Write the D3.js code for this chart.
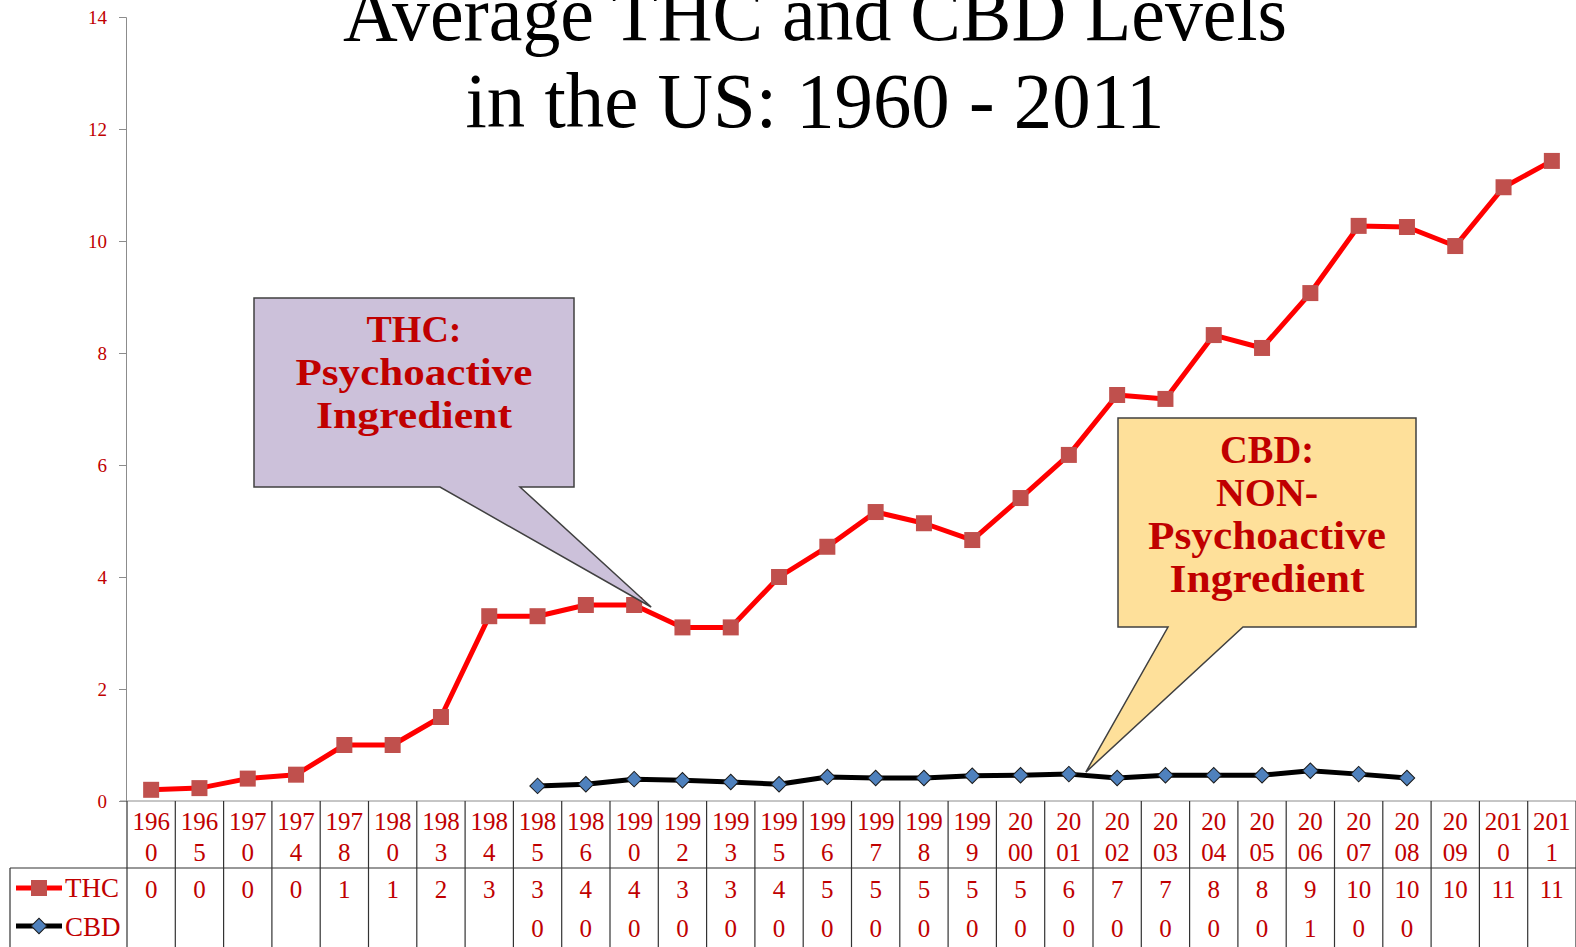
<!DOCTYPE html>
<html>
<head>
<meta charset="utf-8">
<script src="https://cdn.jsdelivr.net/npm/d3@7"></script>
<style>
  body { margin: 0; background: #fff; }
  svg text { font-family: "Liberation Serif", "DejaVu Serif", serif; }
  .tick text { fill: #C00000; font-size: 19px; }
  .cell { fill: #C00000; font-size: 25px; text-anchor: middle; }
</style>
</head>
<body>
<div id="main-svg"></div>
<script>
var width = 1576;
var height = 947;

// data
var years = ["1960","1965","1970","1974","1978","1980","1983","1984","1985","1986",
             "1990","1992","1993","1995","1996","1997","1998","1999","2000","2001",
             "2002","2003","2004","2005","2006","2007","2008","2009","2010","2011"];
var thc = [0.2,0.23,0.4,0.47,1.0,1.0,1.5,3.3,3.3,3.5,
           3.5,3.1,3.1,4.0,4.54,5.16,4.96,4.66,5.41,6.18,
           7.25,7.18,8.32,8.09,9.07,10.27,10.25,9.91,10.96,11.43];
var cbd = [null,null,null,null,null,null,null,null,0.27,0.3,
           0.39,0.37,0.34,0.3,0.43,0.41,0.41,0.45,0.46,0.48,
           0.41,0.46,0.46,0.46,0.54,0.48,0.41,null,null,null];
var yTicks = [0,2,4,6,8,10,12,14];
var titleLines = ["Average THC and CBD Levels", "in the US: 1960 - 2011"];
var thcNote = ["THC:", "Psychoactive", "Ingredient"];
var cbdNote = ["CBD:", "NON-", "Psychoactive", "Ingredient"];

const margin = {top: 17, left: 127, bottom: 801};

var svg = d3.select("#main-svg").append("svg")
  .attr("width", width)
  .attr("height", height);

let x = d3.scaleBand()
  .domain(years)
  .range([margin.left, width]);

let y = d3.scaleLinear()
  .domain([0, 14])
  .range([margin.bottom, margin.top]);

let bw = x.bandwidth();
let cx = d => x(d) + bw/2;

// y axis
let yAxis = d3.axisLeft(y)
  .tickValues(yTicks)
  .tickSize(7)
  .tickPadding(12);

let ya = svg.append('g')
  .attr('class', 'axis yAxis')
  .attr('transform', `translate(${margin.left-1},0)`)
  .call(yAxis);
ya.select('.domain').attr('stroke', '#8c8c8c');
ya.selectAll('.tick line').attr('stroke', '#8c8c8c');

// x axis line
svg.append('line')
  .attr('x1', margin.left - 7).attr('x2', width)
  .attr('y1', y(0)).attr('y2', y(0))
  .attr('stroke', '#8c8c8c');

// title (the first line runs off the top, as in the source)
svg.selectAll('text.title')
  .data(titleLines)
  .enter()
  .append('text')
  .attr('class', 'title')
  .attr('x', 815)
  .attr('y', (d,i) => 40 + i*87)
  .attr('text-anchor', 'middle')
  .attr('textLength', (d,i) => i == 0 ? 944 : 699)
  .attr('lengthAdjust', 'spacingAndGlyphs')
  .style('font-size', '78px')
  .style('fill', '#000')
  .text(d => d);

// callouts
function callout(box, base, tip, fill, lines, lens, top, step, size, cls) {
  let p = d3.path();
  p.moveTo(box[0], box[1]);
  p.lineTo(box[2], box[1]);
  p.lineTo(box[2], box[3]);
  p.lineTo(base[1], box[3]);
  p.lineTo(tip[0], tip[1]);
  p.lineTo(base[0], box[3]);
  p.lineTo(box[0], box[3]);
  p.closePath();
  svg.append('path')
    .attr('d', p.toString())
    .attr('fill', fill)
    .attr('stroke', '#404040')
    .attr('stroke-width', 1.5);
  svg.selectAll('text.' + cls)
    .data(lines)
    .enter()
    .append('text')
    .attr('class', cls)
    .attr('x', (box[0] + box[2]) / 2)
    .attr('y', (d,i) => top + i*step)
    .attr('text-anchor', 'middle')
    .attr('textLength', (d,i) => lens[i])
    .attr('lengthAdjust', 'spacingAndGlyphs')
    .style('font-size', size + 'px')
    .style('font-weight', 'bold')
    .style('fill', '#C00000')
    .text(d => d);
}

// lines
let line = d3.line()
  .defined(d => d.v != null)
  .x(d => cx(d.year))
  .y(d => y(d.v));

let thcData = years.map((yr,i) => ({year: yr, v: thc[i]}));
let cbdData = years.map((yr,i) => ({year: yr, v: cbd[i]}));

svg.append('path')
  .datum(thcData)
  .attr('fill', 'none')
  .attr('stroke', '#FF0000')
  .attr('stroke-width', 5)
  .attr('stroke-linejoin', 'round')
  .attr('d', line);

svg.append('path')
  .datum(cbdData)
  .attr('fill', 'none')
  .attr('stroke', '#000')
  .attr('stroke-width', 5)
  .attr('stroke-linejoin', 'round')
  .attr('d', line);

svg.selectAll('rect.thc')
  .data(thcData)
  .enter()
  .append('rect')
  .attr('class', 'thc')
  .attr('x', d => cx(d.year) - 8)
  .attr('y', d => y(d.v) - 8)
  .attr('width', 16)
  .attr('height', 16)
  .attr('fill', '#C0504D');

let diamond = d3.symbol().type(d3.symbolSquare).size(120);
svg.selectAll('path.cbd')
  .data(cbdData.filter(d => d.v != null))
  .enter()
  .append('path')
  .attr('class', 'cbd')
  .attr('d', diamond)
  .attr('transform', d => `translate(${cx(d.year)},${y(d.v)}) rotate(45)`)
  .attr('fill', '#4F81BD')
  .attr('stroke', '#1a1a1a')
  .attr('stroke-width', 1);

callout([254,298,574,487], [440,520], [cx("1990")+17, y(3.5)+2], '#CCC1DA',
        thcNote, [95,237,196], 342, 43, 38, 'thcNote');
callout([1118,418,1416,627], [1168,1243], [cx("2001")+17, y(0.48)-2], '#FEE09A',
        cbdNote, [94,102,238,195], 463, 43, 41, 'cbdNote');

// data table
let tbl = svg.append('g').attr('class', 'table');

tbl.selectAll('line.col')
  .data(years.concat(['end']))
  .enter()
  .append('line')
  .attr('x1', (d,i) => margin.left + i*bw)
  .attr('x2', (d,i) => margin.left + i*bw)
  .attr('y1', y(0))
  .attr('y2', height)
  .attr('stroke', '#333')
  .attr('stroke-width', 1.2);

tbl.append('line')
  .attr('x1', 10).attr('x2', width)
  .attr('y1', 868).attr('y2', 868)
  .attr('stroke', '#333').attr('stroke-width', 1.2);

tbl.append('line')
  .attr('x1', 10).attr('x2', 10)
  .attr('y1', 868).attr('y2', height)
  .attr('stroke', '#333').attr('stroke-width', 1.2);

// header: year labels wrapped in the narrow columns
let split = yr => (+yr >= 2000 && +yr <= 2009) ? 2 : 3;
let hdr = tbl.selectAll('text.hdr')
  .data(years)
  .enter()
  .append('text')
  .attr('class', 'cell hdr')
  .attr('x', d => cx(d));
hdr.append('tspan').attr('x', d => cx(d)).attr('y', 830).text(d => d.slice(0, split(d)));
hdr.append('tspan').attr('x', d => cx(d)).attr('y', 861).text(d => d.slice(split(d)));

tbl.selectAll('text.thcVal')
  .data(thcData)
  .enter()
  .append('text')
  .attr('class', 'cell thcVal')
  .attr('x', d => cx(d.year))
  .attr('y', 898)
  .text(d => Math.round(d.v));

tbl.selectAll('text.cbdVal')
  .data(cbdData.filter(d => d.v != null))
  .enter()
  .append('text')
  .attr('class', 'cell cbdVal')
  .attr('x', d => cx(d.year))
  .attr('y', 937)
  .text(d => Math.round(d.v));

// legend keys in the table
let lg = tbl.append('g');
lg.append('line').attr('x1', 16).attr('x2', 62).attr('y1', 888).attr('y2', 888)
  .attr('stroke', '#FF0000').attr('stroke-width', 5);
lg.append('rect').attr('x', 31).attr('y', 880).attr('width', 16).attr('height', 16)
  .attr('fill', '#C0504D');
lg.append('text').attr('x', 65).attr('y', 897).style('fill', '#C00000')
  .style('font-size', '27px').text('THC');
lg.append('line').attr('x1', 16).attr('x2', 62).attr('y1', 926).attr('y2', 926)
  .attr('stroke', '#000').attr('stroke-width', 5);
lg.append('path').attr('d', diamond)
  .attr('transform', 'translate(39,926) rotate(45)')
  .attr('fill', '#4F81BD').attr('stroke', '#1a1a1a');
lg.append('text').attr('x', 65).attr('y', 936).style('fill', '#C00000')
  .style('font-size', '27px').text('CBD');
</script>
</body>
</html>
